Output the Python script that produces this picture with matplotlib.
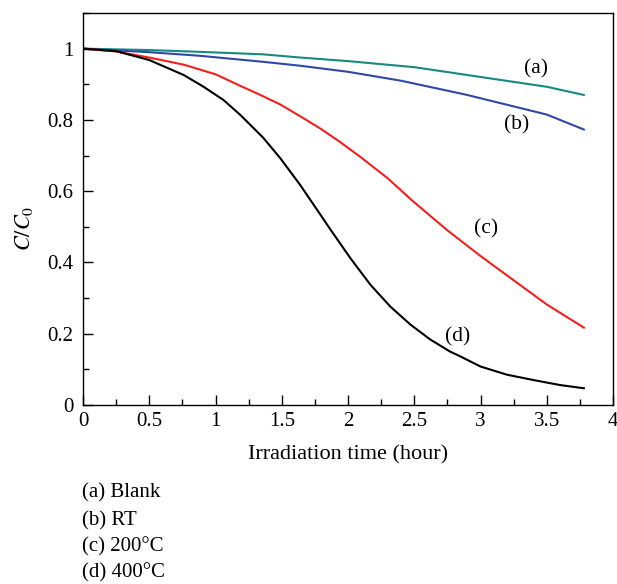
import matplotlib
matplotlib.use("Agg")
import matplotlib.pyplot as plt
from matplotlib.ticker import MultipleLocator

plt.rcParams['font.family'] = ['Liberation Serif', 'DejaVu Serif']
plt.rcParams['mathtext.fontset'] = 'stix'

# Values
t_a = [0, 0.5, 0.88, 1.36, 1.64, 2.0, 2.5, 2.9, 3.5, 3.78]
c_a = [1.0, 0.996, 0.991, 0.984, 0.975, 0.965, 0.948, 0.926, 0.893, 0.870]

t_b = [0, 0.5, 0.88, 1.36, 1.64, 2.0, 2.4, 2.9, 3.5, 3.78]
c_b = [1.0, 0.99, 0.98, 0.963, 0.952, 0.935, 0.910, 0.870, 0.815, 0.773]

t_c = [0, 0.25, 0.5, 0.76, 1.0, 1.19, 1.35, 1.49, 1.64, 1.79, 1.94, 2.09,
       2.30, 2.48, 2.75, 3.0, 3.25, 3.5, 3.78]
c_c = [1.0, 0.992, 0.975, 0.955, 0.928, 0.895, 0.868, 0.843, 0.81, 0.776,
       0.738, 0.697, 0.636, 0.575, 0.49, 0.418, 0.35, 0.282, 0.217]

t_d = [0, 0.25, 0.5, 0.76, 0.91, 1.06, 1.19, 1.36, 1.49, 1.64, 1.79, 1.87, 2.02,
       2.17, 2.32, 2.47, 2.62, 2.77, 2.85, 3.0, 3.2, 3.4, 3.6, 3.78]
c_d = [1.0, 0.993, 0.968, 0.926, 0.893, 0.856, 0.813, 0.75, 0.692, 0.617, 0.535,
       0.491, 0.411, 0.337, 0.276, 0.226, 0.184, 0.15, 0.136, 0.108, 0.085, 0.07,
       0.056, 0.047]

curve_labels = ['(a)', '(b)', '(c)', '(d)']
legend_lines = ['(a) Blank', '(b) RT', '(c) 200°C', '(d) 400°C']

fig = plt.figure(figsize=(6.17, 5.84), dpi=100)
ax = fig.add_axes([83 / 617, 1 - 405 / 584, 530 / 617, 392 / 584])

ax.plot(t_a, c_a, color='#17897f', lw=1.5)
ax.plot(t_b, c_b, color='#2f48a6', lw=1.5)
ax.plot(t_c, c_c, color='#f2201f', lw=1.5)
ax.plot(t_d, c_d, color='black', lw=1.5)

label_pos = [(3.42, 0.943), (3.27, 0.785), (3.04, 0.494), (2.83, 0.19)]
for lab, (x, y) in zip(curve_labels, label_pos):
    ax.text(x, y, lab, fontsize=15.5, ha='center', va='center')

ax.set_xlim(0, 4)
ax.set_ylim(0, 1.1)
ax.xaxis.set_major_locator(MultipleLocator(0.5))
ax.xaxis.set_minor_locator(MultipleLocator(0.25))
ax.yaxis.set_major_locator(MultipleLocator(0.2))
ax.yaxis.set_minor_locator(MultipleLocator(0.1))
ax.set_xticklabels([f'{v:g}' for v in ax.get_xticks()])
ax.set_yticklabels([f'{v:g}' for v in ax.get_yticks()])
ax.tick_params(which='both', direction='in', top=False, right=False, labelsize=15)
ax.tick_params(which='major', length=7, width=1)
ax.tick_params(axis='y', pad=7)
ax.tick_params(axis='x', pad=5)
ax.tick_params(which='minor', length=4, width=1)
for s in ax.spines.values():
    s.set_linewidth(1)

ax.set_xlabel('Irradiation time (hour)', fontsize=16, labelpad=10)
ax.set_ylabel('$C/C_0$', fontsize=16)
ax.yaxis.set_label_coords(-0.09, 0.45)

ys = [493, 521, 547, 573]
for txt, y in zip(legend_lines, ys):
    fig.text(82 / 617, 1 - y / 584, txt, fontsize=15, va='center', ha='left')

fig.savefig('out.png', dpi=100)
